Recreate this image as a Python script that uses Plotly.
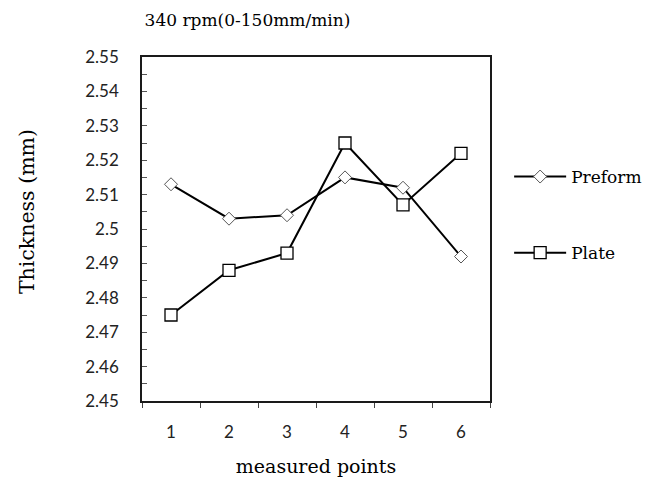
import plotly.graph_objects as go

points = [1, 2, 3, 4, 5, 6]
preform = [2.513, 2.503, 2.504, 2.515, 2.512, 2.492]
plate = [2.475, 2.488, 2.493, 2.525, 2.507, 2.522]
y_ticks = [2.45, 2.46, 2.47, 2.48, 2.49, 2.50, 2.51, 2.52, 2.53, 2.54, 2.55]
y_labels = ["2.45", "2.46", "2.47", "2.48", "2.49", "2.5", "2.51", "2.52", "2.53", "2.54", "2.55"]

SERIF = "DejaVu Serif"
SANS = "Lato"

fig = go.Figure()
fig.add_trace(go.Scatter(
    x=points, y=preform, mode="lines+markers", name="Preform",
    legendgroup="a",
    line=dict(color="black", width=2),
    marker=dict(symbol="diamond", size=10, color="white",
                line=dict(color="#555555", width=1)),
))
fig.add_trace(go.Scatter(
    x=points, y=plate, mode="lines+markers", name="Plate",
    legendgroup="b",
    line=dict(color="black", width=2),
    marker=dict(symbol="square", size=12, color="white",
                line=dict(color="black", width=1.3)),
))

fig.update_layout(
    width=659, height=480,
    margin=dict(l=134, r=177, t=49, b=87, autoexpand=False),
    paper_bgcolor="white", plot_bgcolor="white",
    font=dict(family=SERIF, size=17, color="black"),
    title=dict(text="340 rpm(0-150mm/min)", x=0.3634, xanchor="center",
               xref="container", yref="container", y=0.975, yanchor="middle",
               font=dict(family=SERIF, size=17, color="black")),
    showlegend=True,
    legend=dict(x=1.055, y=0.7035, xanchor="left", yanchor="top",
                traceorder="grouped", tracegroupgap=51,
                itemwidth=52,
                font=dict(family=SERIF, size=17, color="black"),
                bgcolor="rgba(0,0,0,0)"),
    xaxis=dict(
        range=[0.5, 6.5], tickvals=points, ticktext=[str(p) for p in points],
        ticks="", showgrid=False, zeroline=False, ticklabelstandoff=15,
        showline=True, linecolor="#1a1a1a", linewidth=1.5, mirror=True,
        minor=dict(tick0=0.5, dtick=1, ticks="outside", ticklen=5,
                   tickcolor="#444444", tickwidth=1, showgrid=False),
        title=dict(text="measured points", standoff=19,
                   font=dict(family=SERIF, size=19)),
        tickfont=dict(family=SANS, size=17, color="#222222"),
    ),
    yaxis=dict(
        range=[2.45, 2.55], tickvals=y_ticks, ticktext=y_labels,
        ticks="inside", ticklen=5, tickcolor="#555555", tickwidth=1,
        ticklabelstandoff=18,
        showgrid=False, zeroline=False,
        showline=True, linecolor="#1a1a1a", linewidth=1.5, mirror=True,
        minor=dict(dtick=0.005, tick0=2.45, ticks="inside", ticklen=5,
                   tickcolor="#555555", tickwidth=1, showgrid=False),
        tickfont=dict(family=SANS, size=17, color="#222222"),
    ),
    annotations=[dict(
        text="Thickness (mm)", textangle=-90,
        xref="paper", yref="paper", x=-0.3305, y=0.552,
        xanchor="center", yanchor="middle", showarrow=False,
        font=dict(family=SERIF, size=20.5, color="black"),
    )],
)

fig.write_html("out.html")
